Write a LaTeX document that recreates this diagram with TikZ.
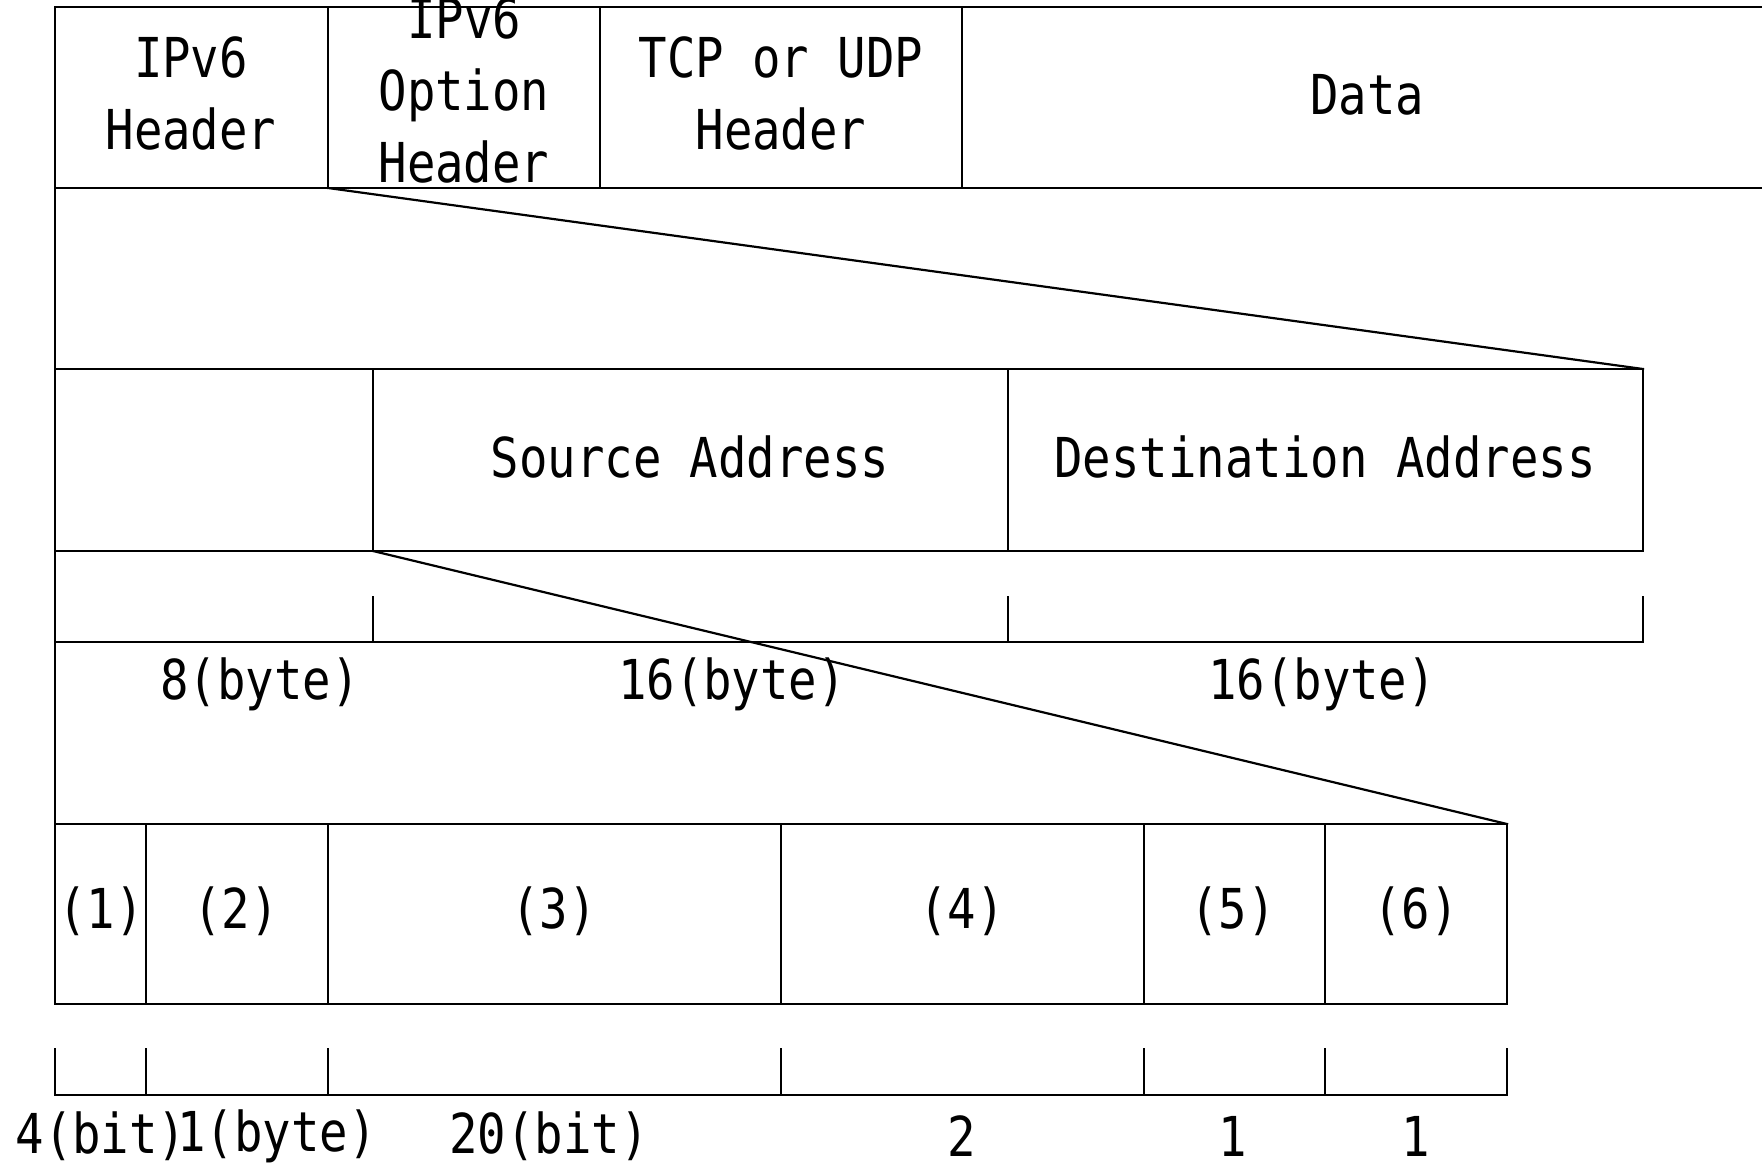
\documentclass[tikz,border=0pt]{standalone}
\usepackage{fontspec}
\newfontfamily\gothic[FakeStretch=0.86]{DejaVu Sans Mono}
\begin{document}
\begin{tikzpicture}[x=1pt,y=-1pt,
  frame/.style={line width=2.2pt,line cap=rect},
  lbl/.style={inner sep=0pt,align=center,font=\gothic\fontsize{55}{72}\selectfont}]
\useasboundingbox (0,0) rectangle (1762,1164);
\clip (0,0) rectangle (1762,1164);

% packet: IPv6 header | option header | TCP/UDP header | data
\draw[frame] (55,1004) -- (55,7) -- (1762,7);
\draw[frame] (55,188) -- (1762,188);
\draw[frame] (328,7) -- (328,188);
\draw[frame] (600,7) -- (600,188);
\draw[frame] (962,7) -- (962,188);
\node[lbl] (ipv6) at (191,93) {IPv6\\Header};
\node[lbl] (opt) at (464,90) {IPv6\\Option\\Header};
\node[lbl] (tcp) at (781,93) {TCP or UDP\\Header};
\node[lbl] (data) at (1367,95) {Data};

% option header layout
\draw[frame] (55,369) -- (1643,369) -- (1643,551) -- (55,551);
\draw[frame] (373,369) -- (373,551);
\draw[frame] (1008,369) -- (1008,551);
\node[lbl] (src) at (690,457) {Source Address};
\node[lbl] (dst) at (1325,457) {Destination Address};

% byte widths
\draw[frame] (55,642) -- (1643,642);
\foreach \x in {373,1008,1643} \draw[frame] (\x,597) -- (\x,642);
\node[lbl] (w1) at (260,684) {8(byte)};
\node[lbl] (w2) at (732,684) {16(byte)};
\node[lbl] (w3) at (1322,684) {16(byte)};

% first 8 bytes in detail
\draw[frame] (55,824) -- (1507,824) -- (1507,1004) -- (55,1004);
\foreach \x in {146,328,781,1144,1325} \draw[frame] (\x,824) -- (\x,1004);
\node[lbl] (f1) at (101,911) {(1)};
\node[lbl] (f2) at (236,911) {(2)};
\node[lbl] (f3) at (554,911) {(3)};
\node[lbl] (f4) at (962,911) {(4)};
\node[lbl] (f5) at (1233,911) {(5)};
\node[lbl] (f6) at (1416,911) {(6)};

% field widths
\draw[frame] (55,1095) -- (1507,1095);
\foreach \x in {55,146,328,781,1144,1325,1507} \draw[frame] (\x,1049) -- (\x,1095);
\node[lbl] (b1) at (101,1136) {4(bit)};
\node[lbl] (b2) at (277,1136) {1(byte)};
\node[lbl] (b3) at (549,1136) {20(bit)};
\node[lbl] (b4) at (962,1136) {2};
\node[lbl] (b5) at (1233,1136) {1};
\node[lbl] (b6) at (1416,1136) {1};

% expansion lines
\coordinate (optR) at (328,188);
\coordinate (expR) at (1643,369);
\coordinate (fixR) at (373,551);
\coordinate (detR) at (1507,824);
\draw[frame] (optR) -- (expR);
\draw[frame] (fixR) -- (detR);
\end{tikzpicture}
\end{document}
